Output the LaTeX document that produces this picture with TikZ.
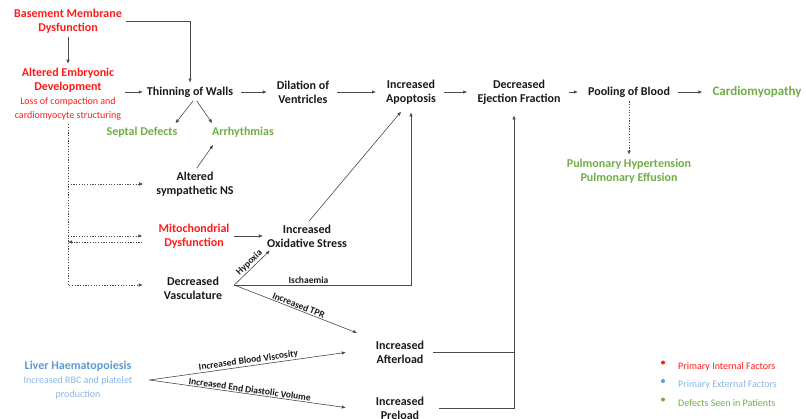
\documentclass[tikz,border=0pt]{standalone}
\usepackage{fontspec}
\setmainfont{Carlito}
\usetikzlibrary{arrows.meta}

\definecolor{factred}{HTML}{FF1A1A}
\definecolor{factblue}{HTML}{5B9BD5}
\definecolor{factlblue}{HTML}{8DB4E2}
\definecolor{factgreen}{HTML}{70AD47}
\definecolor{linegray}{HTML}{4A4A4A}

\newcommand{\subtxt}[1]{{\fontsize{10}{13}\selectfont\mdseries #1}}

\begin{document}
\begin{tikzpicture}[
    x=1pt,
    y=-1pt,
    factor/.style={
        align=center,
        inner sep=1pt,
        text=black!90,
        font=\fontsize{12}{14}\selectfont\bfseries,
    },
    internal/.style={
        factor,
        text=factred,
    },
    defect/.style={
        factor,
        text=factgreen,
    },
    arr/.style={
        -{Latex[length=4pt,width=3.5pt]},
        draw=linegray,
        line width=0.6pt,
        shorten <=3pt,
        shorten >=3pt,
    },
    dotarr/.style={
        arr,
        dash pattern=on 1.2pt off 1.5pt,
        shorten <=0pt,
        shorten >=0pt,
    },
    edgelabel/.style={
        font=\fontsize{9.5}{11}\selectfont\bfseries,
        text=black!90,
        inner sep=1pt,
        sloped,
        above,
    },
    legend/.style={
        anchor=west,
        inner sep=0pt,
        font=\fontsize{10}{12}\selectfont,
    },
]
    \useasboundingbox (0,0) rectangle (806,418);

    % left column
    \node[internal] (bmd) at (68,21) {Basement Membrane\\Dysfunction};
    \node[internal] (aed) at (68,94) {Altered Embryonic\\Development\\\subtxt{Loss of compaction and}\\\subtxt{cardiomyocyte structuring}};
    \node[factor] (asn) at (195,184) {Altered\\sympathetic NS};
    \node[internal] (mito) at (194,236) {Mitochondrial\\Dysfunction};
    \node[factor] (dv) at (193,288) {Decreased\\Vasculature};
    \node[factor,text=factblue] (liv) at (78,380) {Liver Haematopoiesis\\\subtxt{\color{factlblue}Increased RBC and platelet}\\\subtxt{\color{factlblue}production}};

    % main chain
    \node[factor] (thin) at (190,92) {Thinning of Walls};
    \node[factor] (dil) at (303,92) {Dilation of\\Ventricles};
    \node[factor] (apo) at (411,92) {Increased\\Apoptosis};
    \node[factor] (ef) at (519,92) {Decreased\\Ejection Fraction};
    \node[factor] (pool) at (629,92) {Pooling of Blood};
    \node[defect,font=\fontsize{13}{15}\selectfont\bfseries] (card) at (757,92) {Cardiomyopathy};

    \node[defect] (sd) at (142,132) {Septal Defects};
    \node[defect] (arrh) at (243,132) {Arrhythmias};
    \node[defect] (ph) at (629,171) {Pulmonary Hypertension\\Pulmonary Effusion};
    \node[factor] (ox) at (307,236) {Increased\\Oxidative Stress};
    \node[factor] (af) at (400,352) {Increased\\Afterload};
    \node[factor] (pre) at (400,408) {Increased\\Preload};

    \coordinate (vb) at ([xshift=11pt,yshift=3pt]dv.east);
    \coordinate (lb) at ([xshift=16pt]liv.east);
    \coordinate (efin) at ([xshift=-5pt,yshift=-10pt]ef.south);
    \coordinate (mleft) at ([xshift=-15pt,yshift=-6pt]mito.west);

    \draw[arr] (bmd) -- (aed);
    \draw[arr] (bmd.east) -| (thin.north);
    \draw[arr] (aed.east |- thin.west) -- (thin.west);
    \foreach \a/\b in {thin/dil,dil/apo,apo/ef,ef/pool,pool/card} {
        \draw[arr,shorten <=7pt,shorten >=9pt] (\a) -- (\b);
    }
    \draw[arr] ([xshift=5pt]thin.south) -- ([xshift=-5pt]sd.north east);
    \draw[arr] ([xshift=5pt]thin.south) -- ([xshift=3pt]arrh.north west);
    \draw[arr] (asn.north) -- ([xshift=4pt,yshift=-4pt]arrh.south west);
    \draw[arr,dash pattern=on 1.2pt off 1.5pt] (pool.south) -- (ph.north);

    % dotted links from embryonic development
    \draw[dotarr] ([yshift=-3pt]aed.south) |- ([xshift=-20pt,yshift=3pt]dv.west);
    \draw[dotarr] (aed.south |- asn.west) -- ([xshift=-12pt]asn.west);
    \draw[dotarr] (aed.south |- mito.west) -- ([xshift=-15pt]mito.west);
    \draw[dotarr] (mleft) -- (aed.south |- mleft);

    \draw[arr] (mito) -- (ox);
    \draw[arr] (ox.north) -- ([xshift=-8pt,yshift=-4pt]apo.south);
    \draw[arr,shorten <=0pt] (vb) -- ([xshift=6pt]ox.south west) node[edgelabel,midway] (lhyp) {Hypoxia};
    \draw[arr,shorten <=0pt,shorten >=7pt] (vb) -| (apo.south) node[edgelabel,pos=0.21,sloped=false] (lisc) {Ischaemia};
    \draw[arr,shorten <=0pt] (vb) -- ([xshift=-15pt,yshift=18pt]af.west) node[edgelabel,midway] (ltpr) {Increased TPR};

    \draw[arr,shorten <=0pt] (lb) -- ([xshift=-26pt]af.west) node[edgelabel,midway] (lvis) {Increased Blood Viscosity};
    \draw[arr,shorten <=0pt] (lb) -- ([xshift=-26pt]pre.west) node[edgelabel,midway] (ledv) {Increased End Diastolic Volume};

    \draw[arr,shorten <=0pt,shorten >=0pt] ([xshift=8pt]af.east) -| (efin);
    \draw[draw=linegray,line width=0.6pt] ([xshift=14pt]pre.east) -| (efin |- af.east);

    % legend
    \foreach \c/\tc/\t [count=\i] in {factred/factred/Primary Internal Factors,factblue/factlblue/Primary External Factors,factgreen/factgreen/Defects Seen in Patients} {
        \fill[\c] (663,344+18.5*\i) circle (2pt);
        \node[legend,text=\tc] (leg\i) at (678,348+18.5*\i) {\t};
    }
\end{tikzpicture}
\end{document}
